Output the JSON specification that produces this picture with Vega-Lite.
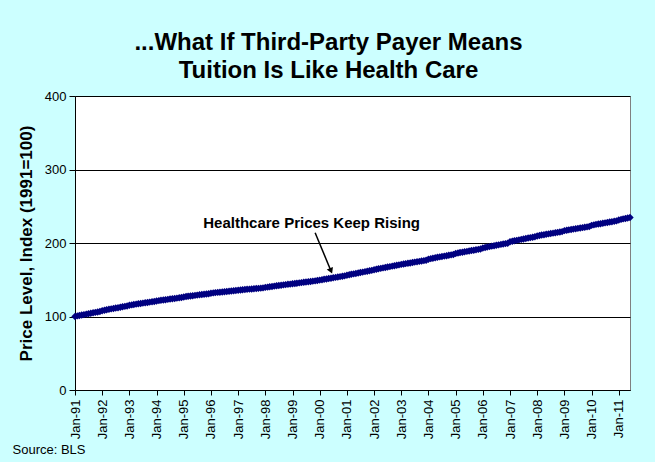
{
  "$schema": "https://vega.github.io/schema/vega-lite/v6.json",
  "width": 555,
  "height": 294,
  "autosize": {"type": "none"},
  "padding": {"left": 75, "top": 96, "right": 25, "bottom": 72},
  "background": "#ccffff",
  "config": {
    "font": "Liberation Sans",
    "view": {"fill": "#ffffff", "stroke": "#808080", "strokeWidth": 1}
  },
  "title": {
    "text": ["...What If Third-Party Payer Means", "Tuition Is Like Health Care"],
    "font": "Liberation Sans",
    "fontSize": 24,
    "fontWeight": "bold",
    "color": "#000000",
    "lineHeight": 28,
    "anchor": "middle",
    "dx": -24,
    "offset": 7
  },
  "datasets": {
    "cpi": [
      {"date":"1991-01-01","v":100.0},{"date":"1991-02-01","v":100.8},{"date":"1991-03-01","v":101.4},{"date":"1991-04-01","v":102.0},{"date":"1991-05-01","v":102.6},{"date":"1991-06-01","v":103.2},{"date":"1991-07-01","v":103.8},{"date":"1991-08-01","v":104.4},{"date":"1991-09-01","v":105.0},{"date":"1991-10-01","v":105.6},{"date":"1991-11-01","v":106.2},{"date":"1991-12-01","v":106.8},
      {"date":"1992-01-01","v":107.9},{"date":"1992-02-01","v":108.6},{"date":"1992-03-01","v":109.2},{"date":"1992-04-01","v":109.8},{"date":"1992-05-01","v":110.4},{"date":"1992-06-01","v":110.9},{"date":"1992-07-01","v":111.5},{"date":"1992-08-01","v":112.0},{"date":"1992-09-01","v":112.6},{"date":"1992-10-01","v":113.2},{"date":"1992-11-01","v":113.8},{"date":"1992-12-01","v":114.3},
      {"date":"1993-01-01","v":115.2},{"date":"1993-02-01","v":115.8},{"date":"1993-03-01","v":116.3},{"date":"1993-04-01","v":116.8},{"date":"1993-05-01","v":117.3},{"date":"1993-06-01","v":117.7},{"date":"1993-07-01","v":118.2},{"date":"1993-08-01","v":118.7},{"date":"1993-09-01","v":119.1},{"date":"1993-10-01","v":119.6},{"date":"1993-11-01","v":120.0},{"date":"1993-12-01","v":120.4},
      {"date":"1994-01-01","v":121.1},{"date":"1994-02-01","v":121.6},{"date":"1994-03-01","v":122.1},{"date":"1994-04-01","v":122.5},{"date":"1994-05-01","v":122.9},{"date":"1994-06-01","v":123.3},{"date":"1994-07-01","v":123.7},{"date":"1994-08-01","v":124.2},{"date":"1994-09-01","v":124.6},{"date":"1994-10-01","v":125.0},{"date":"1994-11-01","v":125.4},{"date":"1994-12-01","v":125.8},
      {"date":"1995-01-01","v":126.6},{"date":"1995-02-01","v":127.1},{"date":"1995-03-01","v":127.5},{"date":"1995-04-01","v":127.9},{"date":"1995-05-01","v":128.3},{"date":"1995-06-01","v":128.7},{"date":"1995-07-01","v":129.1},{"date":"1995-08-01","v":129.5},{"date":"1995-09-01","v":129.9},{"date":"1995-10-01","v":130.3},{"date":"1995-11-01","v":130.7},{"date":"1995-12-01","v":131.0},
      {"date":"1996-01-01","v":131.7},{"date":"1996-02-01","v":132.1},{"date":"1996-03-01","v":132.5},{"date":"1996-04-01","v":132.8},{"date":"1996-05-01","v":133.1},{"date":"1996-06-01","v":133.4},{"date":"1996-07-01","v":133.7},{"date":"1996-08-01","v":134.0},{"date":"1996-09-01","v":134.3},{"date":"1996-10-01","v":134.7},{"date":"1996-11-01","v":135.0},{"date":"1996-12-01","v":135.3},
      {"date":"1997-01-01","v":135.8},{"date":"1997-02-01","v":136.1},{"date":"1997-03-01","v":136.4},{"date":"1997-04-01","v":136.7},{"date":"1997-05-01","v":137.0},{"date":"1997-06-01","v":137.2},{"date":"1997-07-01","v":137.5},{"date":"1997-08-01","v":137.8},{"date":"1997-09-01","v":138.0},{"date":"1997-10-01","v":138.3},{"date":"1997-11-01","v":138.6},{"date":"1997-12-01","v":138.9},
      {"date":"1998-01-01","v":139.6},{"date":"1998-02-01","v":140.0},{"date":"1998-03-01","v":140.5},{"date":"1998-04-01","v":140.9},{"date":"1998-05-01","v":141.3},{"date":"1998-06-01","v":141.8},{"date":"1998-07-01","v":142.2},{"date":"1998-08-01","v":142.6},{"date":"1998-09-01","v":143.0},{"date":"1998-10-01","v":143.4},{"date":"1998-11-01","v":143.8},{"date":"1998-12-01","v":144.1},
      {"date":"1999-01-01","v":144.5},{"date":"1999-02-01","v":144.9},{"date":"1999-03-01","v":145.3},{"date":"1999-04-01","v":145.7},{"date":"1999-05-01","v":146.1},{"date":"1999-06-01","v":146.5},{"date":"1999-07-01","v":146.9},{"date":"1999-08-01","v":147.3},{"date":"1999-09-01","v":147.7},{"date":"1999-10-01","v":148.1},{"date":"1999-11-01","v":148.5},{"date":"1999-12-01","v":148.9},
      {"date":"2000-01-01","v":149.5},{"date":"2000-02-01","v":150.1},{"date":"2000-03-01","v":150.6},{"date":"2000-04-01","v":151.1},{"date":"2000-05-01","v":151.6},{"date":"2000-06-01","v":152.1},{"date":"2000-07-01","v":152.7},{"date":"2000-08-01","v":153.2},{"date":"2000-09-01","v":153.7},{"date":"2000-10-01","v":154.2},{"date":"2000-11-01","v":154.8},{"date":"2000-12-01","v":155.3},
      {"date":"2001-01-01","v":156.2},{"date":"2001-02-01","v":156.9},{"date":"2001-03-01","v":157.5},{"date":"2001-04-01","v":158.0},{"date":"2001-05-01","v":158.6},{"date":"2001-06-01","v":159.2},{"date":"2001-07-01","v":159.8},{"date":"2001-08-01","v":160.4},{"date":"2001-09-01","v":161.0},{"date":"2001-10-01","v":161.6},{"date":"2001-11-01","v":162.2},{"date":"2001-12-01","v":162.8},
      {"date":"2002-01-01","v":163.7},{"date":"2002-02-01","v":164.3},{"date":"2002-03-01","v":164.9},{"date":"2002-04-01","v":165.5},{"date":"2002-05-01","v":166.1},{"date":"2002-06-01","v":166.7},{"date":"2002-07-01","v":167.3},{"date":"2002-08-01","v":167.9},{"date":"2002-09-01","v":168.5},{"date":"2002-10-01","v":169.1},{"date":"2002-11-01","v":169.7},{"date":"2002-12-01","v":170.2},
      {"date":"2003-01-01","v":170.9},{"date":"2003-02-01","v":171.4},{"date":"2003-03-01","v":171.9},{"date":"2003-04-01","v":172.4},{"date":"2003-05-01","v":172.9},{"date":"2003-06-01","v":173.5},{"date":"2003-07-01","v":174.0},{"date":"2003-08-01","v":174.5},{"date":"2003-09-01","v":175.0},{"date":"2003-10-01","v":175.5},{"date":"2003-11-01","v":176.0},{"date":"2003-12-01","v":176.5},
      {"date":"2004-01-01","v":178.0},{"date":"2004-02-01","v":178.7},{"date":"2004-03-01","v":179.3},{"date":"2004-04-01","v":179.9},{"date":"2004-05-01","v":180.5},{"date":"2004-06-01","v":181.1},{"date":"2004-07-01","v":181.6},{"date":"2004-08-01","v":182.2},{"date":"2004-09-01","v":182.7},{"date":"2004-10-01","v":183.3},{"date":"2004-11-01","v":183.9},{"date":"2004-12-01","v":184.4},
      {"date":"2005-01-01","v":185.8},{"date":"2005-02-01","v":186.4},{"date":"2005-03-01","v":187.0},{"date":"2005-04-01","v":187.5},{"date":"2005-05-01","v":188.0},{"date":"2005-06-01","v":188.6},{"date":"2005-07-01","v":189.1},{"date":"2005-08-01","v":189.7},{"date":"2005-09-01","v":190.2},{"date":"2005-10-01","v":190.8},{"date":"2005-11-01","v":191.3},{"date":"2005-12-01","v":191.8},
      {"date":"2006-01-01","v":193.3},{"date":"2006-02-01","v":193.9},{"date":"2006-03-01","v":194.5},{"date":"2006-04-01","v":195.1},{"date":"2006-05-01","v":195.7},{"date":"2006-06-01","v":196.3},{"date":"2006-07-01","v":196.9},{"date":"2006-08-01","v":197.5},{"date":"2006-09-01","v":198.1},{"date":"2006-10-01","v":198.7},{"date":"2006-11-01","v":199.2},{"date":"2006-12-01","v":199.7},
      {"date":"2007-01-01","v":201.6},{"date":"2007-02-01","v":202.4},{"date":"2007-03-01","v":203.0},{"date":"2007-04-01","v":203.6},{"date":"2007-05-01","v":204.2},{"date":"2007-06-01","v":204.9},{"date":"2007-07-01","v":205.5},{"date":"2007-08-01","v":206.1},{"date":"2007-09-01","v":206.7},{"date":"2007-10-01","v":207.3},{"date":"2007-11-01","v":207.9},{"date":"2007-12-01","v":208.4},
      {"date":"2008-01-01","v":209.6},{"date":"2008-02-01","v":210.2},{"date":"2008-03-01","v":210.8},{"date":"2008-04-01","v":211.3},{"date":"2008-05-01","v":211.8},{"date":"2008-06-01","v":212.4},{"date":"2008-07-01","v":212.9},{"date":"2008-08-01","v":213.4},{"date":"2008-09-01","v":213.9},{"date":"2008-10-01","v":214.5},{"date":"2008-11-01","v":215.0},{"date":"2008-12-01","v":215.5},
      {"date":"2009-01-01","v":216.8},{"date":"2009-02-01","v":217.4},{"date":"2009-03-01","v":217.9},{"date":"2009-04-01","v":218.4},{"date":"2009-05-01","v":218.9},{"date":"2009-06-01","v":219.4},{"date":"2009-07-01","v":219.9},{"date":"2009-08-01","v":220.4},{"date":"2009-09-01","v":220.9},{"date":"2009-10-01","v":221.4},{"date":"2009-11-01","v":221.9},{"date":"2009-12-01","v":222.5},
      {"date":"2010-01-01","v":224.0},{"date":"2010-02-01","v":224.7},{"date":"2010-03-01","v":225.3},{"date":"2010-04-01","v":225.8},{"date":"2010-05-01","v":226.3},{"date":"2010-06-01","v":226.9},{"date":"2010-07-01","v":227.4},{"date":"2010-08-01","v":228.0},{"date":"2010-09-01","v":228.5},{"date":"2010-10-01","v":229.0},{"date":"2010-11-01","v":229.6},{"date":"2010-12-01","v":230.1},
      {"date":"2011-01-01","v":231.3},{"date":"2011-02-01","v":232.1},{"date":"2011-03-01","v":232.8},{"date":"2011-04-01","v":233.4},{"date":"2011-05-01","v":234.0},{"date":"2011-06-01","v":234.6}
    ],
    "note": [
      {"date":"1999-09-15","v":227,"label":"Healthcare Prices Keep Rising","start":"1999-11-01","vs":214,"date2":"2000-06-01","v2":162}
    ]
  },
  "layer": [
    {
      "data": {"name": "cpi"},
      "mark": {
        "type": "line",
        "color": "#000080",
        "strokeWidth": 3.5,
        "point": {"shape": "diamond", "filled": true, "size": 55, "color": "#000080"}
      },
      "encoding": {
        "x": {
          "field": "date",
          "type": "temporal",
          "scale": {"type": "utc", "domain": [{"year": 1991, "month": 1, "date": 1, "utc": true}, {"year": 2011, "month": 6, "date": 1, "utc": true}], "nice": false},
          "axis": {
            "title": "Source: BLS",
            "titleFont": "Liberation Sans",
            "titleFontSize": 13,
            "titleFontWeight": "normal",
            "titleColor": "#000000",
            "titleAnchor": "start",
            "titleAlign": "left",
            "titleBaseline": "alphabetic",
            "titleX": -63,
            "titleY": 63,
            "labelExpr": "utcFormat(datum.value, '%b-%y')",
            "tickCount": {"interval": "year", "step": 1},
            "labelAngle": -90,
            "labelAlign": "right",
            "labelBaseline": "middle",
            "labelFont": "Liberation Sans",
            "labelFontSize": 13,
            "labelColor": "#000000",
            "labelPadding": 4,
            "labelOverlap": false,
            "labelFlush": false,
            "tickColor": "#000000",
            "tickSize": 5,
            "domainColor": "#000000",
            "grid": false
          }
        },
        "y": {
          "field": "v",
          "type": "quantitative",
          "scale": {"domain": [0, 400], "nice": false},
          "axis": {
            "title": "Price Level, Index (1991=100)",
            "titleFont": "Liberation Sans",
            "titleFontSize": 17,
            "titleFontWeight": "bold",
            "titleColor": "#000000",
            "titlePadding": 9,
            "values": [0, 100, 200, 300, 400],
            "labelFont": "Liberation Sans",
            "labelFontSize": 13,
            "labelColor": "#000000",
            "labelPadding": 3,
            "tickColor": "#000000",
            "tickSize": 6,
            "domainColor": "#000000",
            "grid": true,
            "gridColor": "#000000",
            "gridOpacity": 1,
            "gridWidth": 1
          }
        }
      }
    },
    {
      "data": {"name": "note"},
      "mark": {"type": "text", "font": "Liberation Sans", "fontSize": 15, "fontWeight": "bold", "color": "#000000", "align": "center", "baseline": "middle"},
      "encoding": {
        "x": {"field": "date", "type": "temporal"},
        "y": {"field": "v", "type": "quantitative"},
        "text": {"field": "label"}
      }
    },
    {
      "data": {"name": "note"},
      "mark": {"type": "rule", "color": "#000000", "strokeWidth": 1.5},
      "encoding": {
        "x": {"field": "start", "type": "temporal"},
        "y": {"field": "vs", "type": "quantitative"},
        "x2": {"field": "date2"},
        "y2": {"field": "v2"}
      }
    },
    {
      "data": {"name": "note"},
      "mark": {"type": "point", "shape": "triangle-down", "filled": true, "color": "#000000", "size": 45, "angle": -23, "opacity": 1},
      "encoding": {
        "x": {"field": "date2", "type": "temporal"},
        "y": {"field": "v2", "type": "quantitative"}
      }
    }
  ]
}
